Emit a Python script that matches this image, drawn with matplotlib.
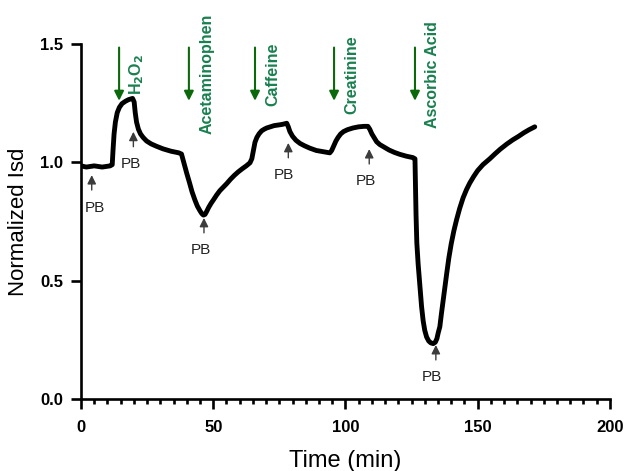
import matplotlib
matplotlib.use("Agg")
import matplotlib.pyplot as plt

plt.rcParams['font.family'] = ['Liberation Sans', 'DejaVu Sans']

# ---- data ----
time_min = [0, 2, 5, 8, 11, 11.8, 12.1, 12.5, 13.0, 13.7, 14.5, 15.5, 16.8, 18.0, 19.5,
            20.1, 20.5, 21.0, 21.7, 22.5, 23.5, 24.8, 26.5, 28.5, 31, 34, 37,
            38.0, 38.6, 39.3, 40, 41, 42, 43.1, 44, 45, 45.7, 46.3, 46.9, 47.5, 48.3, 49.2, 50,
            51.3, 52.5, 53.8, 55.1, 56.5, 58, 59.5, 61, 62.5, 63.9, 64.6, 65.2, 65.8, 66.5,
            67.3, 68.3, 69.3, 70.2, 73, 76, 77.8, 78.4, 79, 80, 81.3, 82.8, 84.5, 86.5, 89,
            91.5, 94.1, 94.8, 95.6, 96.4, 97.2, 98.2, 99.3, 100.8, 102.8, 105, 107, 108.5,
            109.2, 110, 110.8, 111.8, 113, 114.5, 116.5, 118.5, 120.5, 123, 125.5,
            126.3, 126.5, 126.7, 127.0, 127.5, 128.0, 128.8, 129.4, 130.0, 130.7, 131.5,
            132.3, 133.2, 134.0, 134.6, 135.1, 135.7, 136.3, 137.0, 137.6, 138.3, 139.1,
            140.0, 141.0, 142.0, 143.2, 144.5, 145.8, 147.0, 148.5, 150.0, 152.0, 154.6,
            156.5, 158.5, 161.0, 163.3, 165.5, 167.5, 169.5, 171.6]
norm_isd = [0.985, 0.98, 0.985, 0.98, 0.985, 0.99, 1.05, 1.12, 1.17, 1.21, 1.232, 1.248, 1.258, 1.265, 1.27,
            1.255, 1.21, 1.17, 1.14, 1.12, 1.105, 1.09, 1.078, 1.068, 1.057, 1.047, 1.04,
            1.035, 1.01, 0.98, 0.953, 0.915, 0.875, 0.84, 0.815, 0.795, 0.783, 0.777, 0.78, 0.792, 0.81, 0.827, 0.84,
            0.862, 0.88, 0.895, 0.91, 0.928, 0.945, 0.96, 0.973, 0.985, 0.998, 1.015, 1.05, 1.085, 1.105,
            1.12, 1.133, 1.14, 1.145, 1.155, 1.16, 1.165, 1.15, 1.13, 1.11, 1.093, 1.08, 1.07, 1.06, 1.05,
            1.045, 1.04, 1.05, 1.07, 1.09, 1.105, 1.12, 1.13, 1.138, 1.145, 1.15, 1.152, 1.152,
            1.14, 1.12, 1.105, 1.087, 1.075, 1.065, 1.052, 1.042, 1.034, 1.026, 1.02,
            1.015, 0.9, 0.78, 0.66, 0.57, 0.5, 0.39, 0.33, 0.29, 0.262, 0.245,
            0.237, 0.234, 0.24, 0.255, 0.28, 0.305, 0.36, 0.42, 0.475, 0.53, 0.595,
            0.655, 0.71, 0.756, 0.805, 0.85, 0.885, 0.912, 0.94, 0.965, 0.99, 1.015,
            1.035, 1.055, 1.077, 1.095, 1.11, 1.125, 1.138, 1.15]

# analyte additions (green arrows)
analyte_labels = [r'H$_\mathbf{2}$O$_\mathbf{2}$', 'Acetaminophen', 'Caffeine', 'Creatinine', 'Ascorbic Acid']
analyte_time = [14.4, 40.8, 65.8, 95.7, 126.3]
analyte_label_x = [21.2, 47.6, 72.4, 102.3, 132.9]

# PB (buffer) additions
pb_arrow_time = [4.05, 19.8, 46.5, 78.4, 109.0, 134.2]
pb_arrow_head = [0.946, 1.129, 0.765, 1.082, 1.056, 0.228]
pb_text_time = [5.1, 18.7, 45.4, 76.7, 107.8, 132.7]

fig = plt.figure(figsize=(6.30, 4.71), dpi=100)
ax = fig.add_axes([0.1286, 0.1529, 0.968 - 0.1286, 0.9066 - 0.1529])

ax.plot(time_min, norm_isd, color='black', lw=3.5, solid_joinstyle='round', solid_capstyle='round')

ax.set_xlim(0, 200)
ax.set_ylim(0, 1.5)
ax.set_xticks([0, 50, 100, 150, 200])
ax.set_xticks(range(0, 201, 5), minor=True)
ax.set_yticks([0.0, 0.5, 1.0, 1.5])
ax.set_yticklabels(['0.0', '0.5', '1.0', '1.5'])

for s in ['top', 'right']:
    ax.spines[s].set_visible(False)
for s in ['left', 'bottom']:
    ax.spines[s].set_linewidth(1.9)

ax.tick_params(axis='both', which='major', direction='out', length=7, width=1.9,
               labelsize=12, pad=6)
ax.tick_params(axis='x', which='minor', direction='out', length=3.6, width=1.9)
ax.tick_params(axis='x', which='major', pad=8)
for lab in ax.get_xticklabels() + ax.get_yticklabels():
    lab.set_fontweight('bold')

ax.set_xlabel('Time (min)', fontsize=17, labelpad=11)
ax.set_ylabel('Normalized Isd', fontsize=16, labelpad=8)

arrow_green = '#0b690b'
text_green = '#19804f'
for lab, t, lx in zip(analyte_labels, analyte_time, analyte_label_x):
    ax.annotate('', xy=(t, 1.26), xytext=(t, 1.485),
                arrowprops=dict(arrowstyle='-|>', color=arrow_green, lw=1.5,
                                mutation_scale=14, shrinkA=0, shrinkB=0),
                annotation_clip=False)
    ax.text(lx, 1.372, lab, rotation=90, ha='center', va='center', color=text_green,
            fontsize=11.5, fontweight='bold', clip_on=False)

pb_color = '#3c3c3c'
for at, ah, tt in zip(pb_arrow_time, pb_arrow_head, pb_text_time):
    ax.annotate('', xy=(at, ah), xytext=(at, ah - 0.063),
                arrowprops=dict(arrowstyle='-|>', color=pb_color, lw=1.0,
                                mutation_scale=13, shrinkA=0, shrinkB=0))
    ax.text(tt, ah - 0.137, 'PB', ha='center', va='center', fontsize=11, color='#222222')

fig.savefig('out.png', dpi=100)
